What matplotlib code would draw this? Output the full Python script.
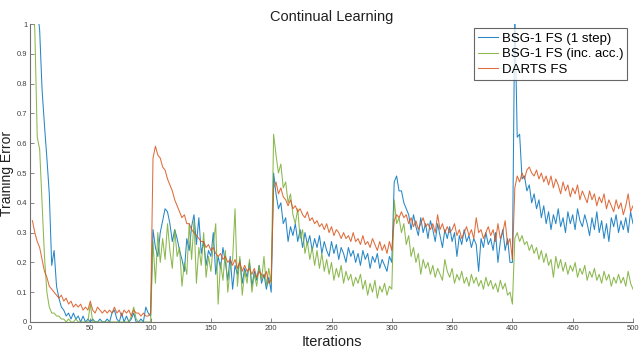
import numpy as np
import matplotlib
matplotlib.use("Agg")
import matplotlib.pyplot as plt

plt.rcParams['font.family'] = ['Liberation Sans', 'DejaVu Sans']

# iterations sampled every 2 steps
iters = np.arange(2, 501, 2)

# BSG-1 FS (1 step)
blue_a = [1.30, 1.20, 1.05, 0.98, 0.78, 0.66, 0.55, 0.43, 0.19, 0.24,
          0.12, 0.08, 0.05, 0.04, 0.02, 0.03, 0.01, 0.03, 0.01, 0.02,
          0.00, 0.02, 0.00, 0.01, 0.00, 0.01, 0.00, 0.00, 0.01, 0.00,
          0.00, 0.01, 0.00, 0.03, 0.04, 0.01, 0.00, 0.03, 0.00, 0.02,
          0.00, 0.01, 0.03, 0.00, 0.00, 0.01, 0.00, 0.05, 0.03, 0.02]
blue_b = [0.31, 0.25, 0.22, 0.30, 0.34, 0.38, 0.37, 0.33, 0.27, 0.31,
          0.28, 0.24, 0.21, 0.17, 0.28, 0.24, 0.32, 0.36, 0.26, 0.35,
          0.23, 0.27, 0.19, 0.24, 0.22, 0.30, 0.16, 0.22, 0.18, 0.25,
          0.20, 0.14, 0.22, 0.11, 0.19, 0.16, 0.21, 0.13, 0.18, 0.15,
          0.20, 0.12, 0.17, 0.14, 0.19, 0.13, 0.16, 0.11, 0.15, 0.10]
blue_c = [0.50, 0.43, 0.38, 0.40, 0.33, 0.35, 0.27, 0.32, 0.29, 0.33,
          0.27, 0.31, 0.25, 0.30, 0.26, 0.29, 0.24, 0.28, 0.25, 0.29,
          0.23, 0.27, 0.24, 0.22, 0.27, 0.23, 0.26, 0.21, 0.25, 0.23,
          0.20, 0.25, 0.22, 0.24, 0.20, 0.23, 0.19, 0.24, 0.21, 0.23,
          0.18, 0.22, 0.20, 0.23, 0.18, 0.21, 0.19, 0.17, 0.22, 0.20]
blue_d = [0.47, 0.49, 0.44, 0.44, 0.40, 0.38, 0.36, 0.31, 0.36, 0.32,
          0.29, 0.35, 0.30, 0.33, 0.28, 0.34, 0.31, 0.27, 0.33, 0.29,
          0.25, 0.31, 0.28, 0.32, 0.27, 0.30, 0.22, 0.29, 0.26, 0.31,
          0.27, 0.29, 0.25, 0.28, 0.26, 0.17, 0.28, 0.25, 0.30, 0.26,
          0.28, 0.24, 0.30, 0.20, 0.27, 0.31, 0.24, 0.28, 0.20, 0.20]
blue_e = [1.05, 0.62, 0.63, 0.48, 0.49, 0.44, 0.46, 0.40, 0.43, 0.38,
          0.41, 0.35, 0.39, 0.33, 0.37, 0.31, 0.36, 0.33, 0.38, 0.32,
          0.35, 0.30, 0.37, 0.33, 0.36, 0.31, 0.38, 0.34, 0.32, 0.36,
          0.33, 0.29, 0.35, 0.31, 0.37, 0.30, 0.34, 0.28, 0.33, 0.27,
          0.35, 0.32, 0.36, 0.30, 0.34, 0.31, 0.35, 0.30, 0.37, 0.33]

# BSG-1 FS (inc. acc.)
green_a = [1.10, 0.98, 0.62, 0.58, 0.40, 0.22, 0.10, 0.05, 0.03, 0.03,
           0.02, 0.02, 0.01, 0.01, 0.00, 0.01, 0.00, 0.00, 0.01, 0.00,
           0.00, 0.00, 0.00, 0.00, 0.06, 0.00, 0.00, 0.00, 0.00, 0.00,
           0.00, 0.00, 0.00, 0.00, 0.00, 0.00, 0.00, 0.00, 0.00, 0.00,
           0.00, 0.02, 0.05, 0.01, 0.00, 0.00, 0.00, 0.00, 0.00, 0.00]
green_b = [0.27, 0.13, 0.30, 0.20, 0.28, 0.21, 0.33, 0.24, 0.18, 0.31,
           0.22, 0.25, 0.12, 0.20, 0.16, 0.33, 0.21, 0.34, 0.13, 0.25,
           0.19, 0.30, 0.15, 0.22, 0.17, 0.26, 0.33, 0.06, 0.20, 0.14,
           0.24, 0.10, 0.18, 0.21, 0.38, 0.12, 0.22, 0.09, 0.17, 0.13,
           0.21, 0.10, 0.16, 0.12, 0.19, 0.14, 0.22, 0.12, 0.18, 0.13]
green_c = [0.63, 0.56, 0.50, 0.53, 0.45, 0.47, 0.40, 0.43, 0.36, 0.33,
           0.38, 0.28, 0.31, 0.23, 0.27, 0.21, 0.25, 0.19, 0.24, 0.18,
           0.23, 0.17, 0.21, 0.16, 0.20, 0.14, 0.18, 0.15, 0.19, 0.13,
           0.17, 0.14, 0.16, 0.12, 0.15, 0.13, 0.16, 0.11, 0.14, 0.09,
           0.13, 0.10, 0.14, 0.08, 0.12, 0.10, 0.13, 0.09, 0.12, 0.11]
green_d = [0.41, 0.33, 0.35, 0.30, 0.33, 0.26, 0.29, 0.22, 0.25, 0.20,
           0.23, 0.16, 0.21, 0.18, 0.20, 0.16, 0.19, 0.15, 0.18, 0.16,
           0.14, 0.21, 0.17, 0.15, 0.18, 0.13, 0.16, 0.14, 0.17, 0.13,
           0.15, 0.12, 0.16, 0.13, 0.15, 0.12, 0.14, 0.11, 0.15, 0.12,
           0.14, 0.11, 0.13, 0.10, 0.14, 0.11, 0.13, 0.09, 0.10, 0.06]
green_e = [0.28, 0.30, 0.27, 0.29, 0.26, 0.27, 0.24, 0.26, 0.23, 0.25,
           0.21, 0.24, 0.20, 0.23, 0.19, 0.21, 0.15, 0.22, 0.18, 0.21,
           0.17, 0.20, 0.16, 0.19, 0.17, 0.20, 0.15, 0.18, 0.16, 0.19,
           0.14, 0.17, 0.15, 0.18, 0.14, 0.16, 0.13, 0.17, 0.14, 0.16,
           0.12, 0.15, 0.13, 0.16, 0.13, 0.15, 0.12, 0.17, 0.13, 0.11]

# DARTS FS
orange_a = [0.34, 0.30, 0.27, 0.25, 0.21, 0.17, 0.15, 0.12, 0.11, 0.10,
            0.09, 0.08, 0.09, 0.07, 0.08, 0.06, 0.07, 0.05, 0.06, 0.05,
            0.06, 0.04, 0.05, 0.04, 0.07, 0.04, 0.03, 0.05, 0.04, 0.03,
            0.04, 0.03, 0.04, 0.03, 0.05, 0.03, 0.04, 0.02, 0.04, 0.03,
            0.04, 0.02, 0.04, 0.03, 0.03, 0.02, 0.03, 0.02, 0.02, 0.03]
orange_b = [0.55, 0.59, 0.56, 0.55, 0.52, 0.51, 0.48, 0.46, 0.44, 0.41,
            0.39, 0.37, 0.35, 0.36, 0.33, 0.33, 0.31, 0.30, 0.29, 0.28,
            0.27, 0.27, 0.25, 0.26, 0.24, 0.25, 0.23, 0.22, 0.23, 0.21,
            0.22, 0.20, 0.21, 0.19, 0.21, 0.18, 0.20, 0.17, 0.19, 0.17,
            0.18, 0.16, 0.18, 0.15, 0.17, 0.16, 0.15, 0.17, 0.13, 0.14]
orange_c = [0.45, 0.47, 0.43, 0.45, 0.42, 0.41, 0.39, 0.41, 0.38, 0.39,
            0.37, 0.38, 0.36, 0.35, 0.37, 0.34, 0.35, 0.33, 0.34, 0.32,
            0.33, 0.31, 0.33, 0.30, 0.32, 0.29, 0.31, 0.30, 0.28, 0.30,
            0.28, 0.29, 0.27, 0.30, 0.27, 0.28, 0.26, 0.29, 0.26, 0.27,
            0.25, 0.28, 0.26, 0.24, 0.27, 0.24, 0.26, 0.23, 0.27, 0.24]
orange_d = [0.34, 0.36, 0.35, 0.37, 0.35, 0.36, 0.33, 0.35, 0.32, 0.34,
            0.31, 0.33, 0.35, 0.32, 0.33, 0.31, 0.33, 0.30, 0.36, 0.31,
            0.33, 0.30, 0.32, 0.30, 0.31, 0.33, 0.29, 0.31, 0.28, 0.30,
            0.32, 0.29, 0.31, 0.28, 0.35, 0.30, 0.31, 0.28, 0.30, 0.32,
            0.29, 0.31, 0.27, 0.33, 0.28, 0.30, 0.34, 0.26, 0.28, 0.21]
orange_e = [0.45, 0.49, 0.47, 0.50, 0.48, 0.51, 0.52, 0.50, 0.49, 0.51,
            0.48, 0.50, 0.47, 0.49, 0.46, 0.49, 0.45, 0.48, 0.46, 0.43,
            0.47, 0.44, 0.46, 0.42, 0.45, 0.43, 0.46, 0.41, 0.44, 0.42,
            0.40, 0.44, 0.41, 0.43, 0.39, 0.42, 0.40, 0.43, 0.38, 0.41,
            0.39, 0.37, 0.41, 0.38, 0.40, 0.36, 0.39, 0.43, 0.37, 0.39]

blue = blue_a + blue_b + blue_c + blue_d + blue_e
green = green_a + green_b + green_c + green_d + green_e
orange = orange_a + orange_b + orange_c + orange_d + orange_e

labels = ['BSG-1 FS (1 step)', 'BSG-1 FS (inc. acc.)', 'DARTS FS']
colors = ['#0072BD', '#77AC30', '#D95319']

fig = plt.figure(figsize=(6.4, 3.49), dpi=100)
ax = fig.add_axes([30/640, 1 - 322/349, 603/640, 298/349])

for ys, lab, c in zip([blue, green, orange], labels, colors):
    ax.plot(iters, ys, color=c, lw=0.75, label=lab, alpha=0.85)

ax.set_xlim(0, 500)
ax.set_ylim(0, 1)
ax.set_xticks(np.arange(0, 501, 50))
ax.set_yticks(np.arange(0, 1.01, 0.1))
ax.set_yticklabels(['0', '0.1', '0.2', '0.3', '0.4', '0.5', '0.6', '0.7', '0.8', '0.9', '1'])

for s in ['top', 'right']:
    ax.spines[s].set_visible(False)
for s in ['left', 'bottom']:
    ax.spines[s].set_color('#707070')
    ax.spines[s].set_linewidth(0.8)
ax.tick_params(direction='in', length=3, width=0.6, colors='#707070',
               labelcolor='#404040', labelsize=5.5, pad=2)

ax.set_title('Continual Learning', fontsize=10.5, color='#202020', pad=1)
ax.set_xlabel('Iterations', fontsize=10.5, color='#202020')
ax.xaxis.set_label_coords(0.5, -0.044)
ax.set_ylabel('Training Error', fontsize=10, color='#202020')
ax.yaxis.set_label_coords(-0.026, 0.5)

leg = ax.legend(loc='upper right', bbox_to_anchor=(0.99, 0.985), fontsize=9.5,
                frameon=True, fancybox=False, handlelength=1.5, handletextpad=0.25,
                borderpad=0.3, labelspacing=0.25, borderaxespad=0)
leg.get_frame().set_edgecolor('#404040')
leg.get_frame().set_linewidth(0.8)

fig.savefig('out.png', dpi=100)
